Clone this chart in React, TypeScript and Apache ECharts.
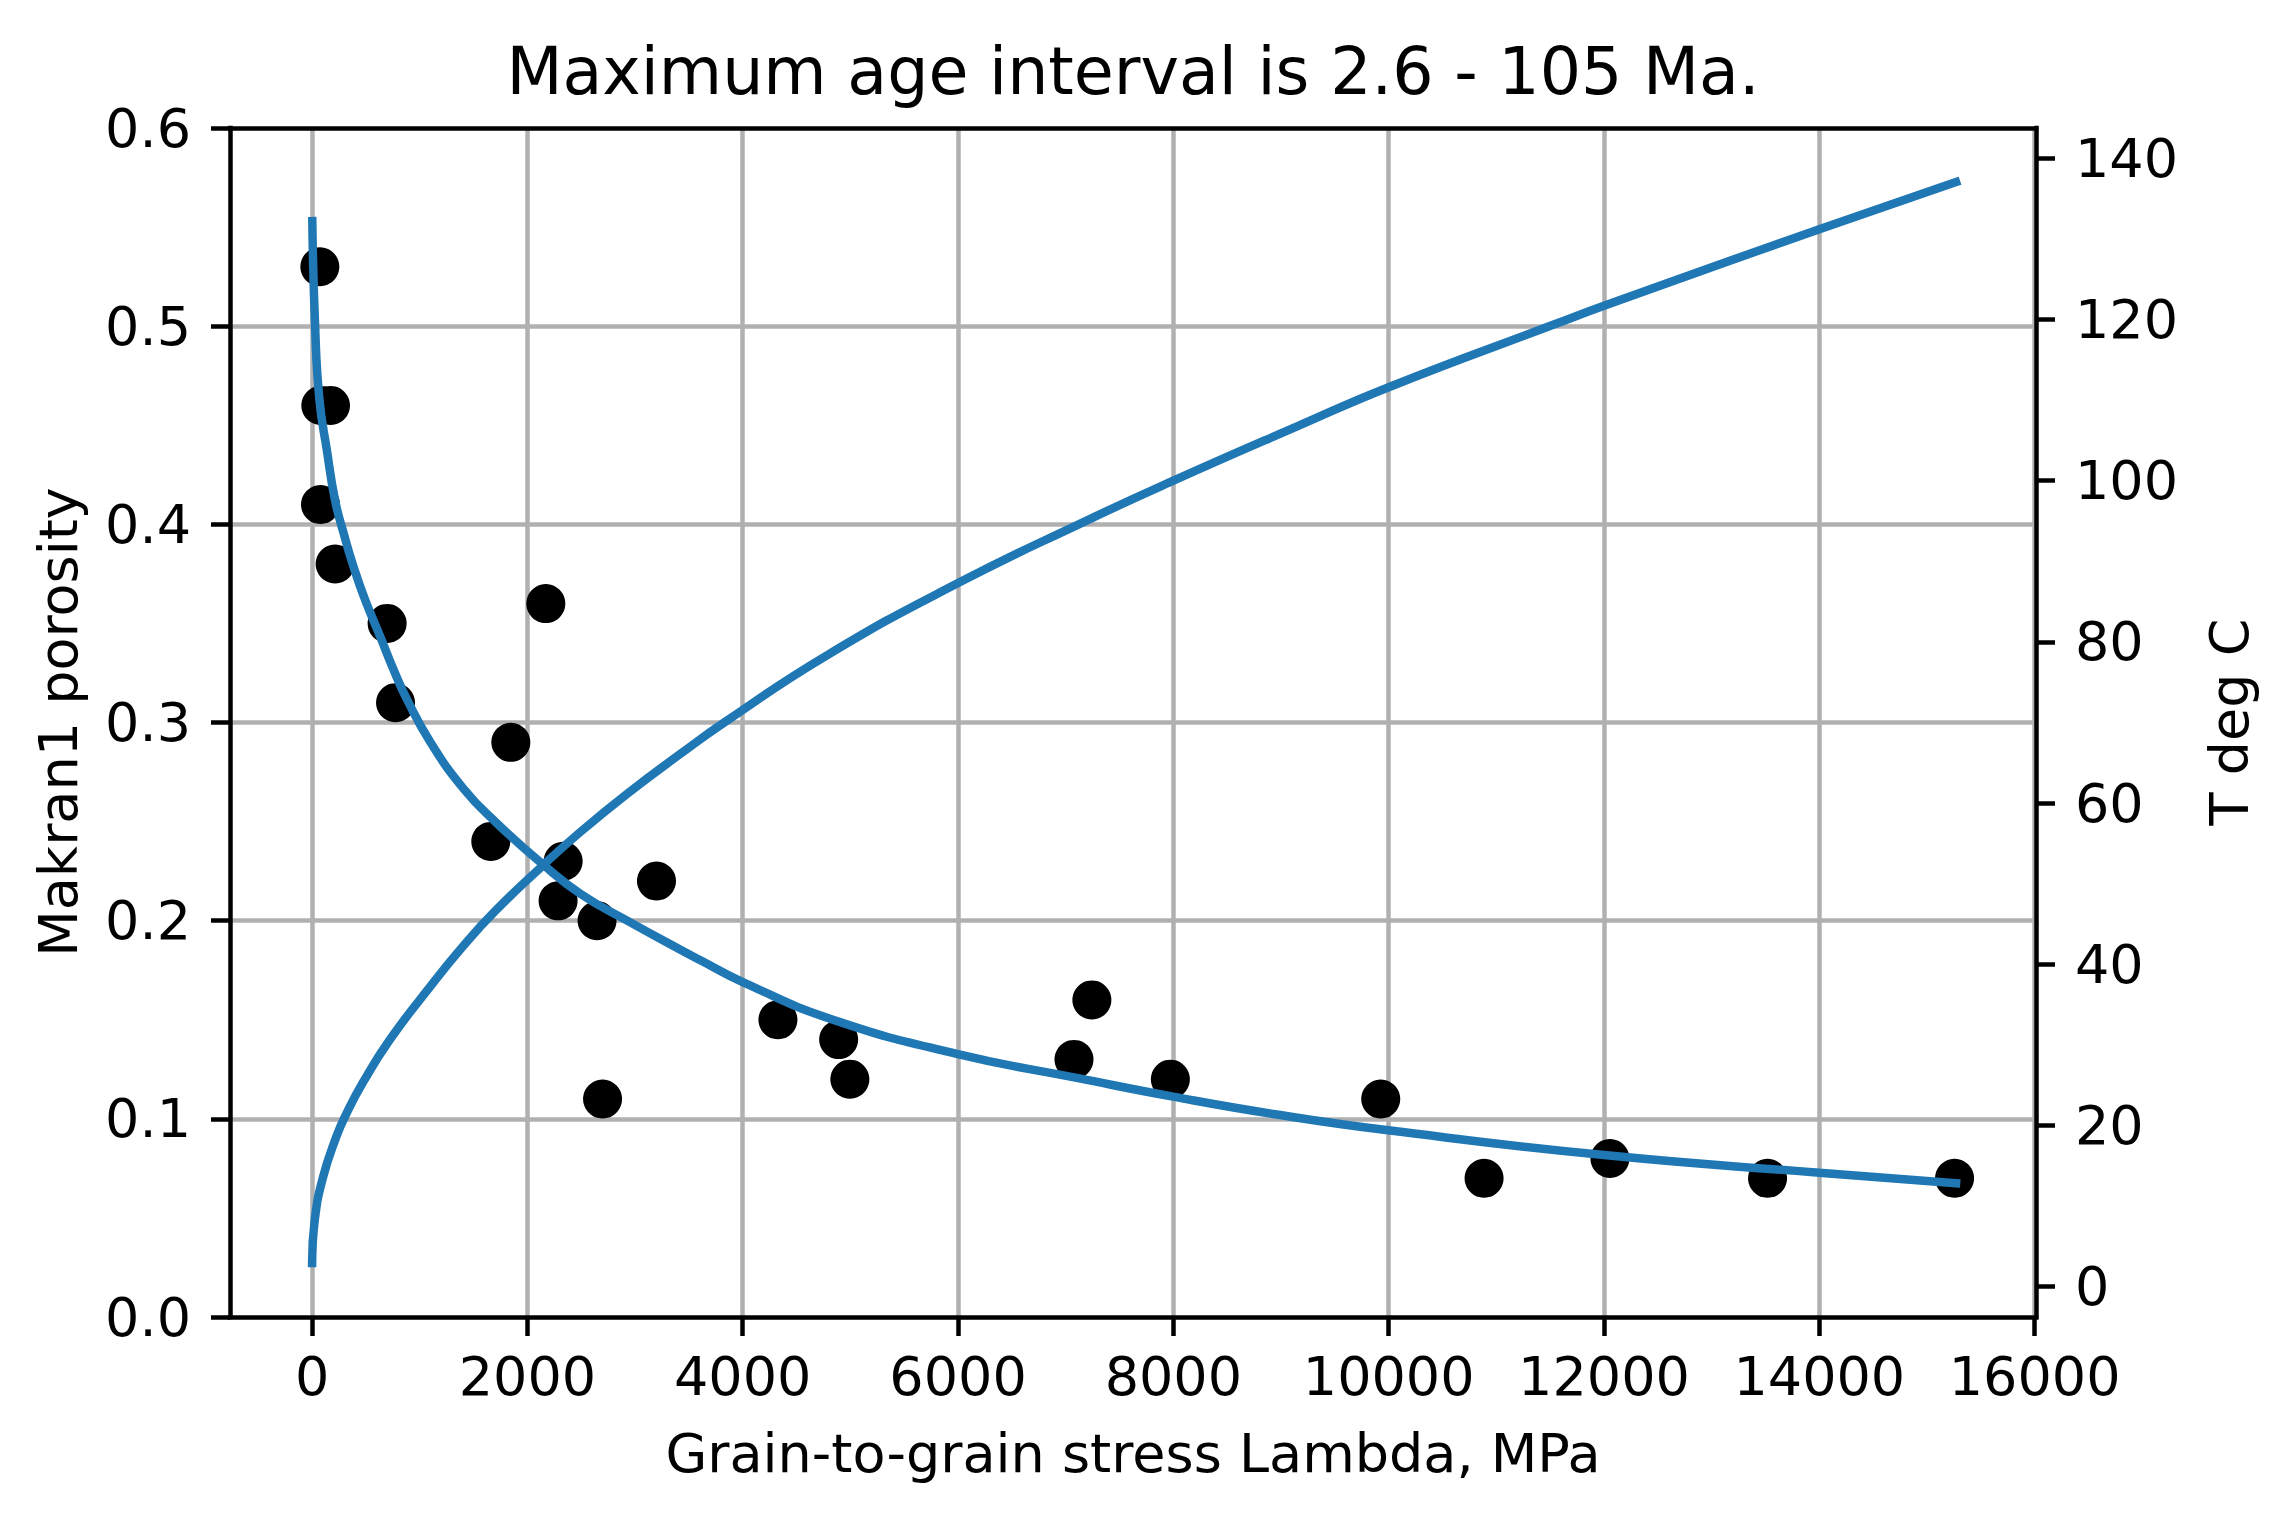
import React, { useEffect, useRef } from "react";
import * as echarts from "echarts";

// ---- data ----
const sampleStress = [72, 81, 171, 78, 214, 697, 775, 2171, 1846, 1660, 2332, 2285, 2647, 3199, 2698, 4327, 4891, 4995, 7077, 7243, 7972, 9926, 10886, 12055, 13519, 15256];
const samplePorosity = [0.53, 0.46, 0.46, 0.41, 0.38, 0.35, 0.31, 0.36, 0.29, 0.24, 0.23, 0.21, 0.2, 0.22, 0.11, 0.15, 0.14, 0.12, 0.13, 0.16, 0.12, 0.11, 0.07, 0.08, 0.07, 0.07];

const fitStress = [2, 28, 68, 137, 214, 298, 385, 493, 633, 757, 881, 1098, 1408, 1719, 2138, 2495, 2960, 3426, 3607, 4000, 4845, 5998, 7127, 7997, 8993, 9996, 12000, 14000, 15270];
const fitPorosity = [0.553, 0.5, 0.463, 0.4375, 0.412, 0.3945, 0.3786, 0.3618, 0.3433, 0.3266, 0.3117, 0.2902, 0.2665, 0.249, 0.2287, 0.2135, 0.199, 0.1852, 0.18, 0.169, 0.1499, 0.1327, 0.1204, 0.1112, 0.1019, 0.0942, 0.0817, 0.0728, 0.0675];

const tempStress = [0, 25, 100, 225, 320, 475, 720, 1095, 1400, 1700, 2130, 2490, 2950, 3420, 3850, 4790, 6000, 7170, 8000, 9160, 10000, 11540, 12000, 13130, 14000, 15270];
const tempValues = [2.95, 8.3, 13.5, 18.6, 21.5, 25.4, 30.6, 37.2, 42.2, 46.6, 52.1, 56.4, 61.4, 66.1, 70.2, 78.4, 87.3, 94.9, 100.0, 106.8, 111.6, 119.4, 121.7, 127.1, 131.2, 137.05];

const xTicks = [0, 2000, 4000, 6000, 8000, 10000, 12000, 14000, 16000];
const tempTicks = [0, 20, 40, 60, 80, 100, 120, 140];

const titleText = "Maximum age interval is 2.6 - 105 Ma.";
const xName = "Grain-to-grain stress Lambda, MPa";
const yName = "Makran1 porosity";
const y2Name = "T deg C";

const FONT = "DejaVu Sans";
const BLUE = "#1f77b4";
const GRID = "#b0b0b0";
const SPINE = 4.5;

const X_MIN = -762.5;
const X_MAX = 16012.5;
const T_MIN = -3.76;
const T_MAX = 143.76;

function zip(a: number[], b: number[]) {
  return a.map((v, i) => [v, b[i]]);
}

function buildOption() {
  const labelStyle = { fontSize: 54, fontFamily: FONT, color: "#000" };
  const spineLine = { show: true, onZero: false, lineStyle: { color: "#000", width: SPINE, cap: "square" } };
  const hidden = { show: false };
  return {
    animation: false,
    backgroundColor: "#ffffff",
    grid: { left: 230, top: 128, right: 255, bottom: 211, containLabel: false, outerBoundsMode: "none" },
    xAxis: [
      {
        type: "value",
        position: "bottom",
        min: X_MIN,
        max: X_MAX,
        axisLine: { show: false, onZero: false },
        axisTick: { show: true, length: 19, customValues: xTicks, lineStyle: { color: "#000", width: SPINE } },
        axisLabel: { ...labelStyle, margin: 32, customValues: xTicks, formatter: (v: number) => String(v) },
        splitLine: { show: true, lineStyle: { color: GRID, width: SPINE } },
        z: 0,
      },
      {
        type: "value",
        position: "top",
        min: X_MIN,
        max: X_MAX,
        axisLine: spineLine,
        axisTick: hidden,
        axisLabel: hidden,
        splitLine: hidden,
        z: 3,
      },
      {
        type: "value",
        position: "bottom",
        min: X_MIN,
        max: X_MAX,
        axisLine: spineLine,
        axisTick: hidden,
        axisLabel: hidden,
        splitLine: hidden,
        z: 3,
      },
    ],
    yAxis: [
      {
        type: "value",
        position: "left",
        min: 0,
        max: 0.6,
        interval: 0.1,
        axisLine: { show: false, onZero: false },
        axisTick: { show: true, length: 19, lineStyle: { color: "#000", width: SPINE } },
        axisLabel: { ...labelStyle, margin: 39, formatter: (v: number) => v.toFixed(1) },
        splitLine: { show: true, showMinLine: false, showMaxLine: false, lineStyle: { color: GRID, width: SPINE } },
        z: 0,
      },
      {
        type: "value",
        position: "right",
        min: T_MIN,
        max: T_MAX,
        axisLine: spineLine,
        axisTick: { show: true, length: 19, customValues: tempTicks, lineStyle: { color: "#000", width: SPINE } },
        axisLabel: { ...labelStyle, margin: 39, customValues: tempTicks, formatter: (v: number) => String(v) },
        splitLine: hidden,
        z: 3,
      },
      {
        type: "value",
        position: "left",
        min: 0,
        max: 0.6,
        axisLine: spineLine,
        axisTick: hidden,
        axisLabel: hidden,
        splitLine: hidden,
        z: 3,
      },
    ],
    series: [
      {
        name: "samples",
        type: "scatter",
        xAxisIndex: 0,
        yAxisIndex: 0,
        data: zip(sampleStress, samplePorosity),
        symbol: "circle",
        symbolSize: 39,
        itemStyle: { color: "#000000", opacity: 1 },
        z: 2,
      },
      {
        name: "porosity fit",
        type: "line",
        xAxisIndex: 0,
        yAxisIndex: 0,
        data: zip(fitStress, fitPorosity),
        symbol: "none",
        showSymbol: false,
        smooth: true,
        lineStyle: { color: BLUE, width: 8.5, cap: "square" },
        z: 3,
      },
      {
        name: "temperature",
        type: "line",
        xAxisIndex: 0,
        yAxisIndex: 1,
        data: zip(tempStress, tempValues),
        symbol: "none",
        showSymbol: false,
        smooth: true,
        lineStyle: { color: BLUE, width: 8.5, cap: "square" },
        z: 4,
      },
    ],
    graphic: [
      {
        type: "text",
        x: 1133,
        y: 71,
        style: { text: titleText, fontSize: 65, fontFamily: FONT, fill: "#000", align: "center", verticalAlign: "middle" },
      },
      {
        type: "text",
        x: 1133,
        y: 1453,
        style: { text: xName, fontSize: 54, fontFamily: FONT, fill: "#000", align: "center", verticalAlign: "middle" },
      },
      {
        type: "text",
        x: 58,
        y: 722,
        rotation: Math.PI / 2,
        style: { text: yName, fontSize: 54, fontFamily: FONT, fill: "#000", align: "center", verticalAlign: "middle" },
      },
      {
        type: "text",
        x: 2229,
        y: 722,
        rotation: Math.PI / 2,
        style: { text: y2Name, fontSize: 54, fontFamily: FONT, fill: "#000", align: "center", verticalAlign: "middle" },
      },
    ],
  };
}

export default function App() {
  const ref = useRef<HTMLDivElement>(null);
  useEffect(() => {
    if (!ref.current) return;
    const chart = echarts.init(ref.current, null, { renderer: "svg" });
    chart.setOption(buildOption() as any);
    return () => chart.dispose();
  }, []);
  return (
    <div
      ref={ref}
      style={{ position: "fixed", left: 0, top: 0, width: 2291, height: 1528, background: "#ffffff" }}
    />
  );
}
